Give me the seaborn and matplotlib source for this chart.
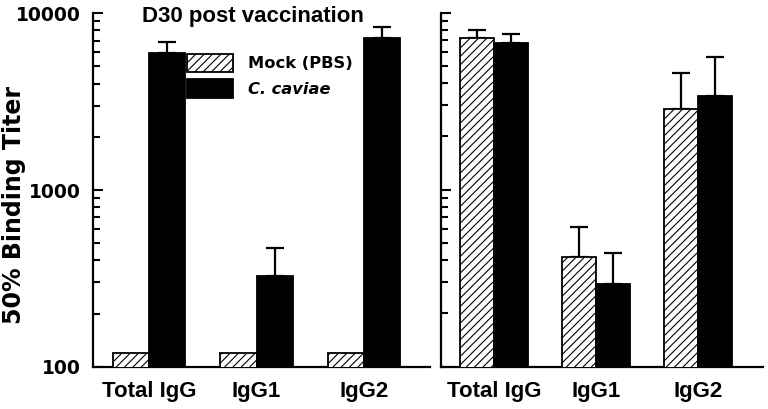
import matplotlib
matplotlib.use("Agg")
import matplotlib.pyplot as plt
from matplotlib.patches import Patch
import seaborn as sns
import pandas as pd
import numpy as np

categories = ["Total IgG", "IgG1", "IgG2"]
groups = ["Mock (PBS)", "C. caviae"]

left_mock = [120, 120, 120]
left_caviae = [5985, 327, 7220]
left_caviae_top = [6850, 468, 8330]

right_mock = [7220, 419, 2857]
right_mock_top = [7980, 613, 4580]
right_caviae = [6770, 294, 3396]
right_caviae_top = [7550, 437, 5640]

y_ticks = [100, 1000, 10000]
y_tick_labels = ["100", "1000", "10000"]

sns.set_theme(style="ticks")
plt.rcParams["font.family"] = ["DejaVu Sans"]
plt.rcParams["hatch.linewidth"] = 0.8
plt.rcParams["axes.linewidth"] = 1.6
for k in ["text.color", "axes.labelcolor", "xtick.color", "ytick.color",
          "axes.edgecolor", "hatch.color"]:
    plt.rcParams[k] = "black"


def make_df(mock, cav):
    return pd.DataFrame({
        "category": categories * 2,
        "group": [groups[0]] * 3 + [groups[1]] * 3,
        "titer": list(mock) + list(cav),
    })


fig = plt.figure(figsize=(7.68, 4.09), dpi=100)
ax1 = fig.add_axes([0.1217, 0.1034, 0.4383, 0.8641])
ax2 = fig.add_axes([0.5738, 0.1034, 0.4197, 0.8656])

palette = {groups[0]: "white", groups[1]: "black"}


def draw(ax, mock, cav, tops, xlim):
    ax.set_yscale("log")
    sns.barplot(data=make_df(mock, cav), x="category", y="titer", hue="group",
                hue_order=groups, order=categories, palette=palette,
                width=0.67, edgecolor="black", linewidth=1.3,
                legend=False, ax=ax, zorder=3, saturation=1)
    for p in ax.containers[0]:
        p.set_hatch("////")
        p.set_edgecolor("black")
    for ci, (vals, top) in enumerate(tops):
        if top is None:
            continue
        cont = ax.containers[ci]
        xs = [p.get_x() + p.get_width() / 2 for p in cont]
        up = np.array(top) - np.array(vals)
        ax.errorbar(xs, vals, yerr=[np.zeros(len(vals)), up], fmt="none",
                    ecolor="black", elinewidth=1.6, capsize=6.5, capthick=1.6,
                    zorder=2)
    ax.set_ylim(100, 10000)
    ax.set_xlim(*xlim)
    ax.set_xlabel("")
    ax.set_ylabel("")
    sns.despine(ax=ax)
    ax.tick_params(axis="x", length=0, pad=10)
    ax.tick_params(axis="y", which="major", direction="in", length=7, width=1.5)
    ax.tick_params(axis="y", which="minor", direction="in", length=5, width=1.5)
    for lab in ax.get_xticklabels():
        lab.set_fontfamily("Liberation Sans")
        lab.set_fontweight("bold")
        lab.set_fontsize(16)


draw(ax1, left_mock, left_caviae,
     [(left_mock, None), (left_caviae, left_caviae_top)], (-0.516, 2.614))
draw(ax2, right_mock, right_caviae,
     [(right_mock, right_mock_top), (right_caviae, right_caviae_top)], (-0.523, 2.641))

ax1.set_yticks(y_ticks)
ax1.set_yticklabels(y_tick_labels, fontsize=13.5, fontweight="bold")
ax1.tick_params(axis="y", which="major", pad=9)
ax2.set_yticks(y_ticks)
ax2.set_yticklabels([])
ax2.yaxis.set_minor_formatter(matplotlib.ticker.NullFormatter())
ax1.yaxis.set_minor_formatter(matplotlib.ticker.NullFormatter())

ax1.set_ylabel("50% Binding Titer", fontsize=17, fontweight="bold")
ax1.yaxis.set_label_coords(-0.2, 0.4575)

ax1.text(0.475, 0.975, "D30 post vaccination", transform=ax1.transAxes,
         ha="center", va="baseline", fontsize=16, fontweight="bold",
         family="Liberation Sans")

handles = [Patch(facecolor="white", edgecolor="black", hatch="////", linewidth=1.3),
           Patch(facecolor="black", edgecolor="black", linewidth=1.3)]
leg = ax1.legend(handles, groups, loc="upper left", bbox_to_anchor=(0.278, 0.885),
                 frameon=False, borderpad=0, borderaxespad=0,
                 handlelength=2.83, handleheight=1.35, handletextpad=0.9,
                 labelspacing=0.45, prop={"weight": "bold", "size": 11.7})
leg.get_texts()[1].set_fontstyle("italic")

fig.savefig("out.png", dpi=100)
